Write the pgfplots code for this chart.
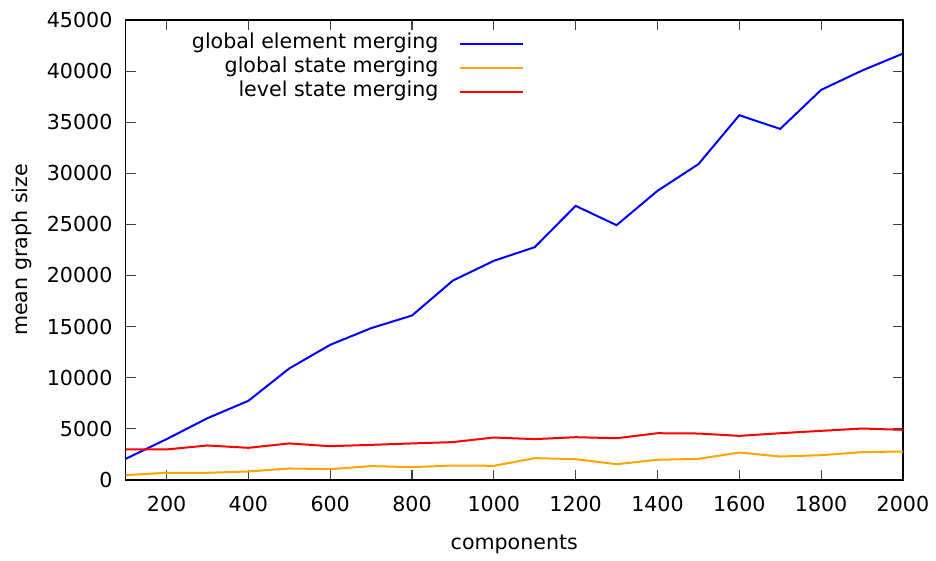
\documentclass[border=0pt]{standalone}
\usepackage{pgfplots}
\pgfplotsset{compat=1.18}
\usepackage{fontspec}
\setmainfont{DejaVu Sans}
\begin{document}
\fontsize{10.3}{12.4}\selectfont
\begin{tikzpicture}
\begin{axis}[
  name=ax,
  scale only axis,
  width=388.8pt, height=230pt,
  xmin=100, xmax=2000, ymin=0, ymax=45000,
  xtick={200,400,...,2000},
  ytick={0,5000,...,45000},
  /pgf/number format/assume math mode=true,
  /pgf/number format/1000 sep={},
  scaled ticks=false,
  tick align=inside,
  major tick length=5pt,
  tick style={black!75, line width=0.55pt},
  axis line style={black, line width=0.7pt},
  tick label style={font=\fontsize{10.3}{12.4}\selectfont},
  xticklabel style={yshift=-4.5pt},
  yticklabel style={xshift=-3pt},
  xlabel={components},
  ylabel={mean graph size},
  label style={font=\fontsize{10.3}{12.4}\selectfont},
  xlabel style={yshift=-4.5pt},
  ylabel style={yshift=0.5pt},
  legend plot pos=right,
  legend cell align=right,
  legend style={draw=none, fill=none, inner sep=0pt, at={(0.5136,0.9735)}, anchor=north east, row sep=1pt,
    nodes={inner sep=0.5pt, text height=7.5pt, text depth=2.5pt},
    font=\fontsize{10.3}{12.4}\selectfont},
  legend image code/.code={\draw[#1] (0pt,0pt) -- (31.5pt,0pt);},
]
\addplot[blue, line width=1pt] coordinates {
(100,2050) (200,3980) (300,6030) (400,7730) (500,10900) (600,13210) (700,14840) (800,16080) (900,19500) (1000,21430) (1100,22770) (1200,26810) (1300,24920) (1400,28280) (1500,30890) (1600,35680) (1700,34340) (1800,38160) (1900,40050) (2000,41710)};
\addlegendentry{global element merging\kern 10pt}
\addplot[line width=1pt, color={rgb,255:red,255;green,165;blue,0}] coordinates {
(100,460) (200,685) (300,685) (400,815) (500,1110) (600,1040) (700,1340) (800,1240) (900,1400) (1000,1370) (1100,2120) (1200,2020) (1300,1530) (1400,1960) (1500,2050) (1600,2670) (1700,2280) (1800,2410) (1900,2710) (2000,2770)};
\addlegendentry{global state merging\kern 10pt}
\addplot[red, line width=1pt] coordinates {
(100,2970) (200,2970) (300,3360) (400,3130) (500,3560) (600,3290) (700,3420) (800,3560) (900,3690) (1000,4140) (1100,3980) (1200,4170) (1300,4070) (1400,4560) (1500,4530) (1600,4300) (1700,4560) (1800,4790) (1900,5020) (2000,4890)};
\addlegendentry{level state merging\kern 10pt}
\end{axis}
\path (ax.south west) ++(-62.85pt,-37pt) rectangle ++(468pt,277pt);
\end{tikzpicture}
\end{document}
